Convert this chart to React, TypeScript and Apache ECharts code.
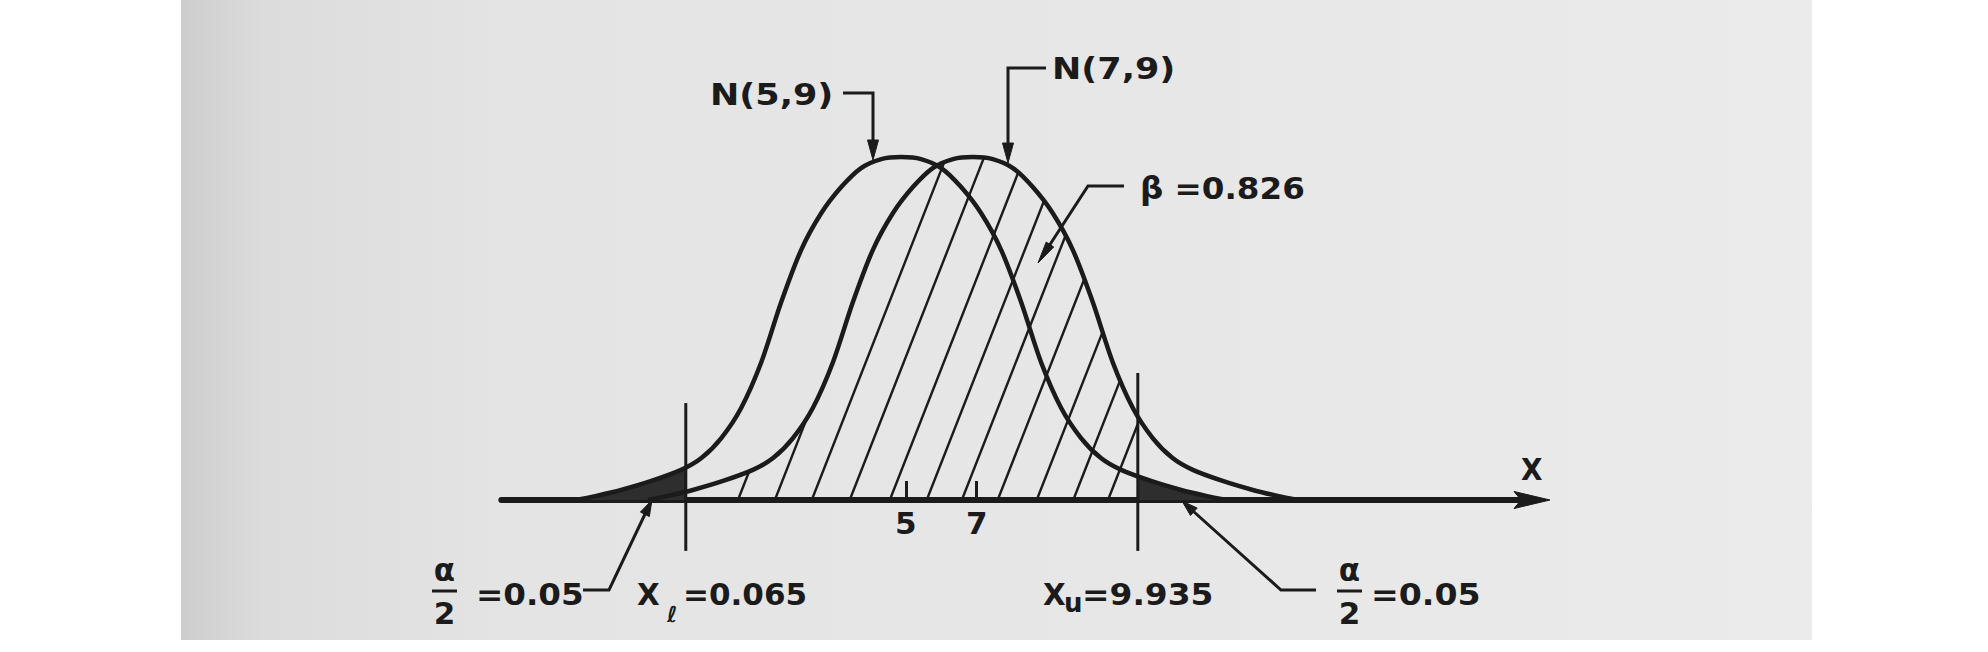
import React, { useEffect, useRef } from 'react';
import * as echarts from 'echarts';

// ---------- data (x in axis units: the ticks 5 and 7 sit where drawn; y = density height) ----------
const n59X = [-4.29, -3.72, -3.02, -2.17, -1.33, -0.76, -0.2, 0.36, 0.93, 1.49, 2.05, 2.62, 3.18, 3.74, 4.31, 4.87, 5.43, 6.0, 6.56, 7.12, 7.69, 8.25, 8.81, 9.38, 9.94, 10.5, 11.07, 11.91, 12.76, 13.46, 14.03];
const n59Y = [0, 0.0016, 0.0039, 0.0074, 0.0117, 0.0163, 0.0241, 0.0358, 0.0537, 0.077, 0.0972, 0.1116, 0.1217, 0.1291, 0.1326, 0.1334, 0.1326, 0.1291, 0.1217, 0.1116, 0.0972, 0.077, 0.0537, 0.0358, 0.0241, 0.0163, 0.0117, 0.0074, 0.0039, 0.0016, 0];

const n79X = [-2.27, -1.7, -1.0, -0.15, 0.69, 1.26, 1.82, 2.38, 2.95, 3.51, 4.07, 4.64, 5.2, 5.76, 6.33, 6.89, 7.45, 8.02, 8.58, 9.14, 9.71, 10.27, 10.83, 11.4, 11.96, 12.52, 13.09, 13.93, 14.78, 15.48, 16.05];
const n79Y = [0, 0.0016, 0.0039, 0.0074, 0.0117, 0.0163, 0.0241, 0.0358, 0.0537, 0.077, 0.0972, 0.1116, 0.1217, 0.1291, 0.1326, 0.1334, 0.1326, 0.1291, 0.1217, 0.1116, 0.0972, 0.077, 0.0537, 0.0358, 0.0241, 0.0163, 0.0117, 0.0074, 0.0039, 0.0016, 0];

const tickValues = [5, 7];
const criticalX = [-1.2, 11.54]; // where x_l and x_u are drawn on the axis
const hatchX = [0.27, 1.31, 2.35, 3.42, 4.55, 5.59, 6.58, 7.59, 8.69, 9.72, 10.7];

const curveLabels = ['N(5,9)', 'N(7,9)'];
const betaLabel = 'β =0.826';
const alphaValue = '=0.05';
const lowerValue = '=0.065';
const upperValue = '=9.935';

// ---------- layout / styles ----------
const X0_PX = 728.5;
const PX_PER_X = 35.5;
const X_MIN = -6.4;
const X_MAX = 22.65;
const ZERO_PX = 500;
const PX_PER_Y = 2571;
const Y_MIN = 0;
const Y_MAX = 0.17;
const CRIT_TOP = [0.0377, 0.0494];
const CRIT_BOTTOM = -0.0198;
const HATCH_RISE = 2.55;
const INK = '#1b1b1b';
const TAIL_FILL = '#2e2e2e';
const FONT = 'DejaVu Sans';

const pairs = (xs: number[], ys: number[]) => xs.map((x, i) => [x, ys[i]]);

function arrowHead(tip: number[], from: number[], len: number, half: number) {
  const dx = from[0] - tip[0];
  const dy = from[1] - tip[1];
  const d = Math.hypot(dx, dy);
  const ux = dx / d;
  const uy = dy / d;
  const bx = tip[0] + ux * len;
  const by = tip[1] + uy * len;
  return {
    type: 'polygon',
    z: 30,
    shape: { points: [tip, [bx - uy * half, by + ux * half], [bx + uy * half, by - ux * half]] },
    style: { fill: INK, stroke: INK, lineWidth: 1 },
  };
}

function leader(points: number[][], tip: number[], len = 20, half = 5.5) {
  return [
    { type: 'polyline', z: 30, shape: { points }, style: { stroke: INK, lineWidth: 3, fill: null } },
    arrowHead(tip, points[points.length - 1], len, half),
  ];
}

function txt(text: string, x: number, y: number, opts: any = {}) {
  return {
    type: 'text',
    z: 30,
    x,
    y,
    scaleX: opts.scaleX ?? 1,
    style: {
      text,
      fill: INK,
      fontFamily: FONT,
      fontWeight: 'bold',
      fontSize: opts.size ?? 31,
      align: opts.align ?? 'left',
      verticalAlign: 'middle',
    },
  };
}

function bar(x1: number, x2: number, y: number) {
  return { type: 'line', z: 30, shape: { x1, y1: y, x2, y2: y }, style: { stroke: INK, lineWidth: 3 } };
}

export default function App() {
  const ref = useRef<HTMLDivElement>(null);

  useEffect(() => {
    if (!ref.current) return;
    const chart = echarts.init(ref.current, null, { renderer: 'svg' });

    const n59 = pairs(n59X, n59Y);
    const n79 = pairs(n79X, n79Y);

    const graphic: any[] = [
      {
        type: 'rect',
        z: -10,
        shape: { x: 181, y: 0, width: 1631, height: 640 },
        style: {
          fill: new echarts.graphic.LinearGradient(0, 0, 1, 0, [
            { offset: 0, color: '#cdcdcd' },
            { offset: 0.05, color: '#dcdcdc' },
            { offset: 0.2, color: '#e4e4e4' },
            { offset: 0.6, color: '#e7e7e7' },
            { offset: 1, color: '#ebebeb' },
          ]),
        },
      },
      // axis arrow head
      {
        type: 'polygon',
        z: 25,
        shape: { points: [[1550, 500], [1514, 491.5], [1521, 500], [1514, 508.5]] },
        style: { fill: INK, stroke: INK, lineWidth: 1 },
      },
      txt(curveLabels[0], 710, 94, { scaleX: 1.13 }),
      ...leader([[843, 93], [873, 93], [873, 140]], [873, 160]),
      txt(curveLabels[1], 1052, 68, { scaleX: 1.13 }),
      ...leader([[1046, 68], [1008, 68], [1008, 143]], [1008, 163]),
      txt(betaLabel, 1140, 188, { scaleX: 1.05 }),
      ...leader([[1124, 186], [1088, 186], [1049, 246]], [1038, 263], 22, 4.5),
      // left alpha/2
      txt('α', 444.5, 570, { align: 'center' }),
      bar(432, 457, 591),
      txt('2', 444.5, 613, { align: 'center' }),
      txt(alphaValue, 476, 594, { scaleX: 1.05 }),
      ...leader([[583, 590], [609, 590], [646, 512]], [652, 500], 16, 5),
      // x_l
      txt('X', 637, 594, { scaleX: 0.95 }),
      txt('ℓ', 667, 614, { size: 22 }),
      txt(lowerValue, 683, 594, { scaleX: 1.0 }),
      // x_u
      txt('X', 1043, 594, { scaleX: 0.95 }),
      txt('u', 1064, 603, { size: 26 }),
      txt(upperValue, 1082, 594, { scaleX: 1.06 }),
      // right alpha/2
      ...leader([[1316, 590], [1281, 590], [1193, 511]], [1182, 501], 16, 5),
      txt('α', 1349.5, 570, { align: 'center' }),
      bar(1337, 1362, 591),
      txt('2', 1349.5, 613, { align: 'center' }),
      txt(alphaValue, 1371, 594, { scaleX: 1.07 }),
      // axis name
      txt('X', 1521, 469, { scaleX: 0.9 }),
    ];

    const option: any = {
      animation: false,
      backgroundColor: '#ffffff',
      grid: {
        left: X0_PX + X_MIN * PX_PER_X,
        width: 1532 - (X0_PX + X_MIN * PX_PER_X),
        top: ZERO_PX - Y_MAX * PX_PER_Y,
        height: (Y_MAX - Y_MIN) * PX_PER_Y,
        containLabel: false,
      },
      xAxis: {
        type: 'value',
        min: X_MIN,
        max: X_MAX,
        splitLine: { show: false },
        axisLine: {
          show: true,
          onZero: true,
          symbol: ['none', 'none'],
          lineStyle: { color: INK, width: 6 },
        },
        axisTick: {
          show: true,
          inside: true,
          length: 19,
          customValues: tickValues,
          lineStyle: { color: INK, width: 3 },
        },
        axisLabel: {
          show: true,
          customValues: tickValues,
          margin: 7,
          color: INK,
          fontFamily: FONT,
          fontWeight: 'bold',
          fontSize: 31,
          formatter: (v: number) => (tickValues.includes(v) ? String(v) : ''),
        },
      },
      yAxis: { type: 'value', min: Y_MIN, max: Y_MAX, show: false },
      graphic,
      series: [
        {
          // alpha/2 tails of N(5,9) beyond the critical lines
          type: 'custom',
          z: 1,
          clip: false,
          data: criticalX.map((x) => [x, 0]),
          renderItem: (params: any, api: any) => {
            const pts = n59.map((p) => api.coord(p));
            const c = api.coord([api.value(0), 0]);
            const base = c[1];
            let yc = base;
            for (let i = 0; i < pts.length - 1; i++) {
              const p = pts[i];
              const q = pts[i + 1];
              if (p[0] <= c[0] && q[0] >= c[0]) {
                yc = p[1] + ((c[0] - p[0]) / (q[0] - p[0])) * (q[1] - p[1]);
                break;
              }
            }
            let poly: number[][];
            if (params.dataIndex === 0) {
              poly = [[pts[0][0], base], ...pts.filter((p) => p[0] < c[0]), [c[0], yc], [c[0], base]];
            } else {
              poly = [[c[0], base], [c[0], yc], ...pts.filter((p) => p[0] > c[0]), [pts[pts.length - 1][0], base]];
            }
            return { type: 'polygon', shape: { points: poly }, style: { fill: TAIL_FILL } };
          },
        },
        {
          // beta hatching under N(7,9) between the critical lines
          type: 'custom',
          z: 2,
          clip: false,
          data: hatchX.map((x) => [x, 0]),
          renderItem: (_params: any, api: any) => {
            const B = api.coord([api.value(0), 0]);
            const pts = n79.map((p) => api.coord(p));
            const dx = 1;
            const dy = -HATCH_RISE;
            let best = Infinity;
            for (let i = 0; i < pts.length - 1; i++) {
              const p = pts[i];
              const q = pts[i + 1];
              const ex = q[0] - p[0];
              const ey = q[1] - p[1];
              const den = dx * ey - dy * ex;
              if (Math.abs(den) < 1e-9) continue;
              const wx = p[0] - B[0];
              const wy = p[1] - B[1];
              const t = (wx * ey - wy * ex) / den;
              const u = (wx * dy - wy * dx) / den;
              if (t > 1 && u >= 0 && u <= 1 && t < best) best = t;
            }
            const xu = api.coord([criticalX[1], 0])[0];
            if (!isFinite(best)) best = 0;
            if (B[0] + best * dx > xu) best = (xu - B[0]) / dx;
            return {
              type: 'line',
              shape: { x1: B[0], y1: B[1], x2: B[0] + best * dx, y2: B[1] + best * dy },
              style: { stroke: INK, lineWidth: 2.4 },
            };
          },
        },
        {
          name: curveLabels[0],
          type: 'line',
          z: 3,
          data: n59,
          smooth: 0.3,
          showSymbol: false,
          lineStyle: { color: INK, width: 4.5 },
        },
        {
          name: curveLabels[1],
          type: 'line',
          z: 3,
          data: n79,
          smooth: 0.3,
          showSymbol: false,
          lineStyle: { color: INK, width: 4.5 },
        },
        {
          // critical lines x_l and x_u
          type: 'custom',
          z: 4,
          clip: false,
          data: criticalX.map((x, i) => [x, CRIT_TOP[i], CRIT_BOTTOM]),
          encode: { x: 0, y: [1, 2] },
          renderItem: (_params: any, api: any) => {
            const a = api.coord([api.value(0), api.value(1)]);
            const b = api.coord([api.value(0), api.value(2)]);
            return {
              type: 'line',
              shape: { x1: a[0], y1: a[1], x2: b[0], y2: b[1] },
              style: { stroke: INK, lineWidth: 3 },
            };
          },
        },
      ],
    };

    chart.setOption(option);
    return () => chart.dispose();
  }, []);

  return (
    <div
      ref={ref}
      style={{ position: 'absolute', left: 0, top: 0, width: 1988, height: 652, background: '#ffffff' }}
    />
  );
}
